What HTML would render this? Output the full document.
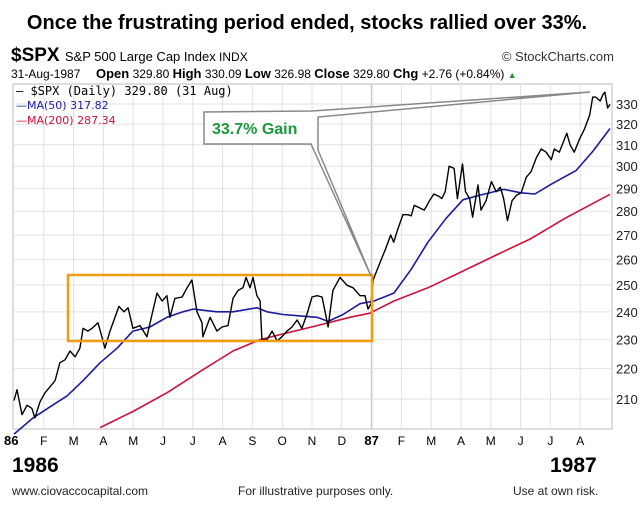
<!DOCTYPE html>
<html><head><meta charset="utf-8"><style>
body{margin:0;background:#fff;width:640px;height:510px;overflow:hidden;font-family:"Liberation Sans",sans-serif}
</style></head><body>
<svg id="c" width="640" height="510" xmlns="http://www.w3.org/2000/svg" font-family="Liberation Sans, sans-serif">
<text x="307" y="29" text-anchor="middle" font-size="20" font-weight="bold" fill="#000">Once the frustrating period ended, stocks rallied over 33%.</text>
<text x="11" y="61" font-size="19" font-weight="bold">$SPX <tspan font-size="13" font-weight="normal">S&amp;P 500 Large Cap Index</tspan><tspan font-size="12" font-weight="normal"> INDX</tspan></text>
<text x="614" y="61" text-anchor="end" font-size="13" fill="#333">© StockCharts.com</text>
<text x="11" y="78" font-size="12">31-Aug-1987 <tspan x="96" font-weight="bold" font-size="13">Open</tspan> 329.80 <tspan font-weight="bold" font-size="13">High</tspan> 330.09 <tspan font-weight="bold" font-size="13">Low</tspan> 326.98 <tspan font-weight="bold" font-size="13">Close</tspan> 329.80 <tspan font-weight="bold" font-size="13">Chg</tspan> +2.76 (+0.84%) <tspan fill="#1a9a3a" font-size="9">▲</tspan></text>
<g id="grid"></g>
<g id="axes"></g>
<g id="series"></g>
<rect x="68" y="275" width="304" height="66" fill="none" stroke="#f39c12" stroke-width="2.5"/>
<polygon points="204,112 312,111 590,92 318,117 318,150 371,276 311,144 204,144" fill="#fff" stroke="#888" stroke-width="1.5"/>
<text x="212" y="134" font-size="16" font-weight="bold" fill="#1a9a3a">33.7% Gain</text>
<g font-family="DejaVu Sans Mono, monospace">
<text x="16" y="95" font-size="12" fill="#000">— $SPX (Daily) 329.80 (31 Aug)</text>
<text x="16" y="109" font-size="11" fill="#1a1aa0" font-family="DejaVu Sans, sans-serif">—MA(50) 317.82</text>
<text x="16" y="124" font-size="11" fill="#d0103a" font-family="DejaVu Sans, sans-serif">—MA(200) 287.34</text>
</g>
<text x="12" y="472" font-size="21" font-weight="bold">1986</text>
<text x="550" y="472" font-size="21" font-weight="bold">1987</text>
<text x="12" y="495" font-size="12" fill="#222">www.ciovaccocapital.com</text>
<text x="238" y="495" font-size="12" fill="#222">For illustrative purposes only.</text>
<text x="513" y="495" font-size="12" fill="#222">Use at own risk.</text>
</svg>
<script>
const monthLabels=["86","F","M","A","M","J","J","A","S","O","N","D","87","F","M","A","M","J","J","A"];
const yTicks=[210,220,230,240,250,260,270,280,290,300,310,320,330];
const priceMonths=[0,.1,.27,.44,.6,.7,.87,1.04,1.21,1.38,1.54,1.71,1.88,2.05,2.21,2.32,2.48,2.62,2.82,2.95,3.05,3.22,3.39,3.52,3.69,3.83,3.99,4.23,4.46,4.63,4.8,4.97,5.13,5.23,5.4,5.64,5.81,5.97,6.14,6.31,6.34,6.58,6.81,6.98,7.18,7.35,7.52,7.68,7.79,7.92,8.02,8.15,8.26,8.32,8.49,8.66,8.83,8.99,9.16,9.33,9.5,9.66,9.83,10,10.17,10.34,10.44,10.54,10.7,10.94,11.17,11.38,11.61,11.78,11.88,11.98,12.05,12.29,12.46,12.64,12.74,12.87,13.05,13.22,13.33,13.43,13.6,13.77,13.94,14.09,14.25,14.36,14.47,14.6,14.77,14.88,15.05,15.15,15.29,15.39,15.57,15.67,15.84,16.02,16.18,16.32,16.43,16.56,16.71,16.87,17.02,17.19,17.35,17.53,17.69,17.86,18.03,18.13,18.3,18.55,18.66,18.8,18.97,19.14,19.32,19.42,19.52,19.67,19.77,19.83,19.92,20];
const priceValues=[209.5,213,205,208,207,204,209,212,214,216,222,223,226,224,227,234,233,234,236,231,227,233,238,242,240,241.5,234,235,231,239,247,244,246,238,245,245.5,249,252,240,236,231,238,233,234.5,235,245,248,249,253,249,253,246,244,230,230,233,229.5,231,233,234.5,237,234,239,245.5,246,245.5,240,234.5,248,253,250,249,246,246,241,243,252,259,264,270,267,272,278.5,278.5,278,282.5,281.5,280.5,284.5,287.5,286.5,285.5,288.5,300,299,285.5,301,288.5,285.5,277.5,291.5,280.5,284.5,293,288.5,290.5,285.5,276,284.5,287,288,295,297.5,304,308,306.5,303,308,306.5,315.5,310,306.5,312.5,317.5,324.5,333.5,333.5,331.5,335,336,328,329.8];
const ma50Months=[0,.64,1.21,1.78,2.32,2.89,3.46,3.99,4.56,5.13,5.67,6.01,6.81,7.35,8.15,8.49,9.03,9.6,10.17,10.54,11.04,11.61,12.08,12.75,13.32,13.89,14.5,15.07,15.64,16.44,17.01,17.48,18.05,18.86,19.43,20];
const ma50Values=[199,204,207.5,211,216,222,227,233,234.5,238,240,241,240,240,241.5,240,239,238.5,238,236.5,239,243,244,247,256,267,277,285,287,289.5,288,287.5,292,298,307,317.82];
const ma200Months=[2.89,3.99,5.13,6.24,7.35,8.26,9.03,10.17,11.27,11.94,12.75,13.89,15.07,16.21,17.35,18.49,20];
const ma200Values=[201,206,212,219,226,230,232,235,238,239.5,244,249,255.5,262,268.5,277,287.34];

const L=13,R=612,T=84,B=429;
const xM=m=>14+m*29.8;
const yV=v=>104+(Math.log(330)-Math.log(v))*652.6;
const NS="http://www.w3.org/2000/svg";
function mk(tag,attrs,parent){const e=document.createElementNS(NS,tag);for(const k in attrs)e.setAttribute(k,attrs[k]);parent.appendChild(e);return e;}
const grid=document.getElementById('grid'),axes=document.getElementById('axes'),series=document.getElementById('series');
mk('rect',{x:L,y:T,width:R-L,height:B-T,fill:'#fff',stroke:'#bbb'},grid);
monthLabels.forEach((lab,i)=>{
  const x=xM(i);
  if(i>0){const g=mk('line',{x1:x,x2:x,y1:T,y2:B,stroke:i==12?'#c8c8c8':'#e2e2e2','stroke-width':i==12?1.5:1},grid);
  
  }
  const t=mk('text',{x:x,y:445,'text-anchor':i==0?'start':'middle','font-size':(i==0||i==12)?13:12,'font-weight':(i==0||i==12)?'bold':'normal'},axes);
  if(i==0)t.setAttribute('x',4);
  t.textContent=lab;
  
  
});
yTicks.forEach(v=>{
  const y=yV(v);
  const g=mk('line',{x1:L,x2:R,y1:y,y2:y,stroke:'#e2e2e2'},grid);
  
  
  const t=mk('text',{x:616,y:y+5,'font-size':13,fill:'#222'},axes);
  t.textContent=v;
  
  
});
function line(ms,vs,color,w,name){
  const d=ms.map((m,i)=>(i?'L':'M')+xM(m).toFixed(1)+','+yV(vs[i]).toFixed(1)).join('');
  const p=mk('path',{d:d,fill:'none',stroke:color,'stroke-width':w,'stroke-linejoin':'round'},series);
  
  
}
line(ma200Months,ma200Values,'#d0103a',1.6,'ma200-line');
line(ma50Months,ma50Values,'#1a1aa0',1.6,'ma50-line');
line(priceMonths,priceValues,'#000',1.4,'spx-price-line');
</script>
</body></html>
